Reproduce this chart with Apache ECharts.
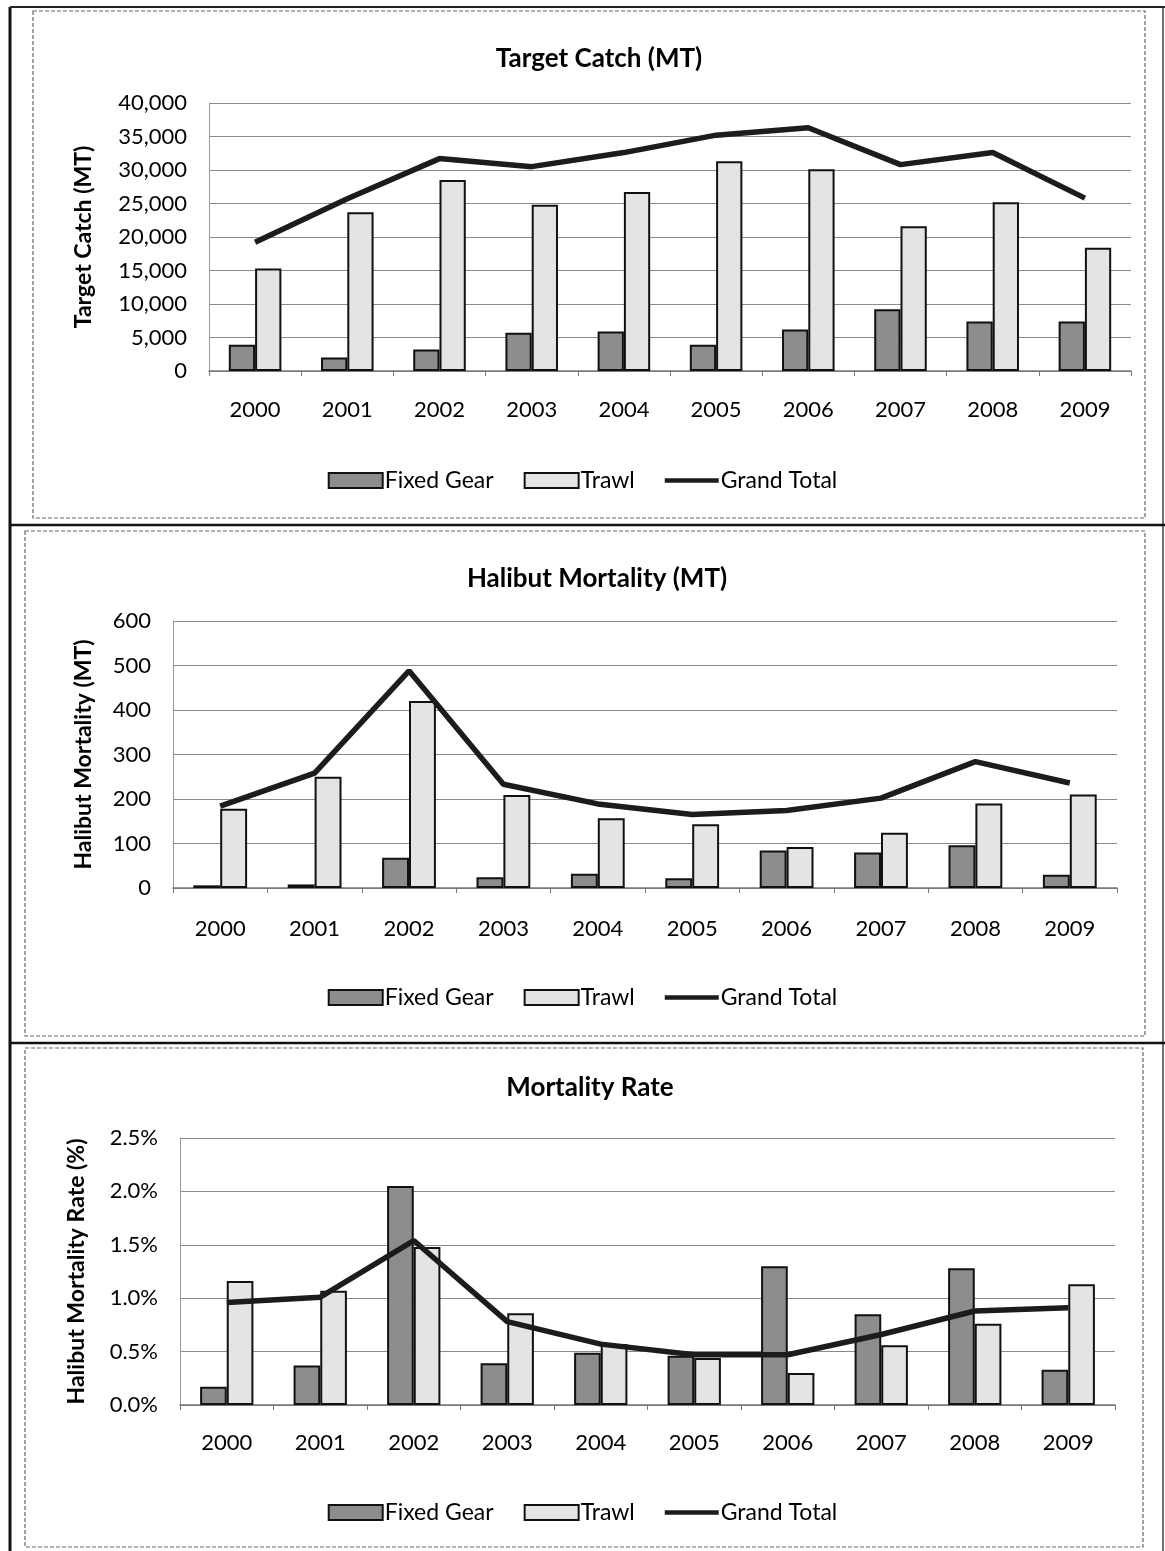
<!DOCTYPE html>
<html>
<head>
<meta charset="utf-8">
<script src="https://cdn.jsdelivr.net/npm/echarts@6/dist/echarts.min.js"></script>
<style>
  html, body { margin: 0; padding: 0; background: #fff; }
  #chart { width: 1165px; height: 1551px; }
</style>
</head>
<body>
<div id="chart"></div>
<script>
// Years shown along every category axis
const years = ['2000', '2001', '2002', '2003', '2004', '2005', '2006', '2007', '2008', '2009'];

// Target catch, metric tons
const catchFixed = [3900, 2000, 3200, 5700, 5900, 3900, 6200, 9200, 7400, 7400];
const catchTrawl = [15300, 23700, 28500, 24800, 26700, 31300, 30100, 21600, 25200, 18400];
const catchTotal = [19200, 25700, 31700, 30500, 32600, 35200, 36300, 30800, 32600, 25800];

// Halibut mortality, metric tons
const mortFixed = [6, 8, 68, 24, 32, 22, 84, 80, 96, 30];
const mortTrawl = [178, 250, 420, 209, 157, 143, 92, 124, 190, 210];
const mortTotal = [184, 258, 488, 233, 189, 165, 174, 202, 284, 236];

// Halibut mortality rate, percent
const rateFixed = [0.17, 0.37, 2.05, 0.39, 0.49, 0.46, 1.30, 0.85, 1.28, 0.33];
const rateTrawl = [1.16, 1.07, 1.48, 0.86, 0.57, 0.44, 0.30, 0.56, 0.76, 1.13];
const rateTotal = [0.96, 1.01, 1.54, 0.78, 0.57, 0.47, 0.47, 0.66, 0.88, 0.91];

const chartTitles = ['Target Catch (MT)', 'Halibut Mortality (MT)', 'Mortality Rate'];
const axisNames = ['Target Catch (MT)', 'Halibut Mortality (MT)', 'Halibut Mortality Rate (%)'];
const seriesNames = ['Fixed Gear', 'Trawl', 'Grand Total'];

const FONT = 'Lato, "Open Sans", sans-serif';
const panels = [
  { grid: { left: 209, top: 103, width: 922, height: 268 }, titleX: 594, titleY: 41, legendY: 464, nameGap: 114,
    min: 0, max: 40000, interval: 5000, labelMargin: 28,
    fmt: v => v.toLocaleString('en-US'), data: [catchFixed, catchTrawl, catchTotal] },
  { grid: { left: 173, top: 621, width: 944, height: 267 }, titleX: 592, titleY: 561, legendY: 981, nameGap: 78,
    min: 0, max: 600, interval: 100, labelMargin: 30,
    fmt: v => String(v), data: [mortFixed, mortTrawl, mortTotal] },
  { grid: { left: 180, top: 1138, width: 935, height: 267 }, titleX: 585, titleY: 1070, legendY: 1496, nameGap: 92,
    min: 0, max: 2.5, interval: 0.5, labelMargin: 27,
    fmt: v => v.toFixed(1) + '%', data: [rateFixed, rateTrawl, rateTotal] }
];

const gridColor = '#8a8a8a';
const option = {
  animation: false,
  backgroundColor: '#ffffff',
  textStyle: { fontFamily: FONT, color: '#000' },
  title: panels.map((p, i) => ({
    text: chartTitles[i],
    left: p.titleX,
    top: p.titleY,
    textAlign: 'center',
    textStyle: { fontFamily: FONT, fontWeight: 'bold', fontSize: 26, color: '#000' }
  })),
  legend: panels.map((p, i) => ({
    top: p.legendY,
    left: 'center',
    itemWidth: 54,
    itemHeight: 15,
    itemGap: 30,
    data: [
      { name: 'Fixed Gear', icon: 'rect' },
      { name: 'Trawl', icon: 'rect' },
      { name: 'Grand Total', icon: 'path://M0,0 L58,0 L58,5 L0,5 Z' }
    ],
    textStyle: { fontFamily: FONT, fontSize: 23, color: '#000', padding: [0, 0, 0, -3] }
  })),
  grid: panels.map(p => Object.assign({ containLabel: false }, p.grid)),
  xAxis: panels.map((p, i) => ({
    type: 'category',
    gridIndex: i,
    data: years,
    axisLine: { lineStyle: { color: '#777', width: 1.5 } },
    axisTick: { show: true, length: 5, lineStyle: { color: '#777' } },
    axisLabel: { fontFamily: FONT, fontSize: 22, color: '#000', margin: p.labelMargin }
  })),
  yAxis: panels.map((p, i) => ({
    type: 'value',
    gridIndex: i,
    min: p.min, max: p.max, interval: p.interval,
    name: axisNames[i],
    nameLocation: 'middle',
    nameGap: p.nameGap,
    nameTextStyle: { fontFamily: FONT, fontWeight: 'bold', fontSize: 23, color: '#000' },
    axisLine: { show: true, lineStyle: { color: '#999', width: 1 } },
    axisTick: { show: false },
    splitLine: { lineStyle: { color: gridColor, width: 1.2 } },
    axisLabel: { fontFamily: FONT, fontSize: 22, color: '#000', margin: 22, formatter: p.fmt }
  })),
  series: panels.flatMap((p, i) => [
    {
      name: seriesNames[0], type: 'bar', xAxisIndex: i, yAxisIndex: i,
      data: p.data[0], barGap: '0%', barCategoryGap: '43%',
      itemStyle: { color: '#8d8d8d', borderColor: '#111', borderWidth: 2 }
    },
    {
      name: seriesNames[1], type: 'bar', xAxisIndex: i, yAxisIndex: i,
      data: p.data[1], barGap: '0%', barCategoryGap: '43%',
      itemStyle: { color: '#e4e4e4', borderColor: '#111', borderWidth: 2 }
    },
    {
      name: seriesNames[2], type: 'line', xAxisIndex: i, yAxisIndex: i,
      data: p.data[2], symbol: 'none', z: 5,
      lineStyle: { color: '#1c1c1c', width: 5.5 },
      itemStyle: { color: '#1c1c1c' }
    }
  ]),
  graphic: [
    // page frame and panel separators
    { type: 'line', shape: { x1: 10, y1: 7, x2: 10, y2: 1551 }, style: { stroke: '#111', lineWidth: 3 } },
    { type: 'line', shape: { x1: 10, y1: 7, x2: 1165, y2: 7 }, style: { stroke: '#222', lineWidth: 2 } },
    { type: 'line', shape: { x1: 1163, y1: 7, x2: 1163, y2: 1551 }, style: { stroke: '#444', lineWidth: 1.5 } },
    { type: 'line', shape: { x1: 10, y1: 525, x2: 1165, y2: 525 }, style: { stroke: '#111', lineWidth: 2.5 } },
    { type: 'line', shape: { x1: 10, y1: 1043, x2: 1165, y2: 1043 }, style: { stroke: '#111', lineWidth: 2.5 } },
    // chart area outlines
    { type: 'rect', shape: { x: 33, y: 11, width: 1112, height: 507 }, style: { fill: 'none', stroke: '#666', lineWidth: 1.2, lineDash: [4, 2] }, z: -1 },
    { type: 'rect', shape: { x: 25, y: 531, width: 1120, height: 505 }, style: { fill: 'none', stroke: '#666', lineWidth: 1.2, lineDash: [4, 2] }, z: -1 },
    { type: 'rect', shape: { x: 25, y: 1048, width: 1118, height: 499 }, style: { fill: 'none', stroke: '#666', lineWidth: 1.2, lineDash: [4, 2] }, z: -1 }
  ]
};

const chart = echarts.init(document.getElementById('chart'), null, { renderer: 'canvas' });
chart.setOption(option);
</script>
</body>
</html>
